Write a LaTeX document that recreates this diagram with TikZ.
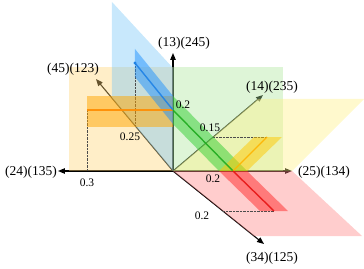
\documentclass[tikz,border=0pt]{standalone}
\usepackage{fontspec}
\setmainfont{Liberation Serif}
\usepackage{xcolor}
\usetikzlibrary{arrows.meta,positioning}
\definecolor{naranjap}{RGB}{255,212,117}
\definecolor{azulp}{RGB}{117,197,247}
\definecolor{verdep}{RGB}{172,230,155}
\definecolor{amarillop}{RGB}{255,240,130}
\definecolor{rojop}{RGB}{255,130,130}
\definecolor{naranjab}{RGB}{255,165,0}
\definecolor{azulb}{RGB}{30,144,255}
\definecolor{verdeb}{RGB}{50,205,50}
\definecolor{amarillob}{RGB}{255,200,0}
\definecolor{rojob}{RGB}{255,40,40}
\definecolor{naranjar}{RGB}{255,140,0}
\definecolor{azulr}{RGB}{30,130,230}
\definecolor{verder}{RGB}{30,170,30}
\definecolor{amarillor}{RGB}{255,180,0}
\definecolor{rojor}{RGB}{230,20,20}
\tikzset{
  eje/.style={-{Triangle[length=7pt,width=5.5pt]},line width=1.1pt,black},
  plano/.style={draw=none,fill opacity=0.4},
  banda/.style={draw=none,fill opacity=0.5},
  recta/.style={line width=1.4pt,opacity=0.9},
  guia/.style={densely dotted,thin,black!70},
  pt/.style={circle,fill=black,inner sep=1.2pt},
  etq/.style={font=\fontsize{13.5}{15}\selectfont,inner sep=0pt},
  num/.style={font=\fontsize{11.5}{13}\selectfont,inner sep=0pt}
}

\begin{document}
\begin{tikzpicture}[x=1pt,y=1pt]
\useasboundingbox (-173,-97) rectangle (191,171);
% ejes
\coordinate (o) at (0,0);
\coordinate (a13) at (0,118);
\coordinate (a24) at (-115,0);
\coordinate (a25) at (119,0);
\coordinate (a45) at (-77,92);
\coordinate (a14) at (90,76);
\coordinate (a34) at (91,-73);
\foreach \a in {a13,a24,a25,a45,a14,a34}{
  \draw[eje] (o) -- (\a);}
% planos
\fill[plano,fill=naranjap] (-104,0) rectangle (0,104);
\fill[plano,fill=azulp] (o) -- (0,103) -- (-61,169) -- (-61,73) -- cycle;
\fill[plano,fill=verdep] (o) rectangle (110,104);
\fill[plano,fill=amarillop] (o) -- (119,0) -- (191,72) -- (85,72) -- cycle;
\fill[plano,fill=rojop] (o) -- (119,0) -- (189,-65) -- (81,-65) -- cycle;
% puntos de las rectas
\coordinate (j) at (0,61);
\coordinate (b0) at (-38,108);
\coordinate (k) at (60,0);
\coordinate (n0) at (-86,61);
\coordinate (y1) at (94,34);
\coordinate (r1) at (101,-40);
% guias
\coordinate (p03) at (-86,0);
\coordinate (p025) at (-38,45);
\coordinate (p015) at (40,34);
\coordinate (p02) at (50,-40);
\draw[guia] (n0) -- (p03);
\draw[guia] (b0) -- (p025);
\draw[guia] (p015) -- (y1);
\draw[guia] (p02) -- (r1);
% bandas
\fill[banda,fill=naranjab] (-86,44) rectangle (0,75);
\fill[banda,fill=azulb] (-38,122) -- (0,75) -- (0,47) -- (-38,94) -- cycle;
\fill[banda,fill=verdeb] (0,75) -- (74,0) -- (46,0) -- (0,47) -- cycle;
\fill[banda,fill=amarillob] (46,0) -- (74,0) -- (109,34) -- (81,34) -- cycle;
\fill[banda,fill=rojob] (46,0) -- (74,0) -- (115,-40) -- (87,-40) -- cycle;
% rectas
\draw[recta,naranjar] (n0) -- (j);
\draw[recta,azulr] (b0) -- (j);
\draw[recta,verder] (j) -- (k);
\draw[recta,amarillor] (k) -- (y1);
\draw[recta,rojor] (k) -- (r1);
\node[pt,fill=azulr] (b0p) at (b0) {};
% etiquetas
\node[etq] (l13) at (11,128) {(13)(245)};
\node[etq] (l24) at (-142,-1) {(24)(135)};
\node[etq] (l25) at (151,-1) {(25)(134)};
\node[etq] (l45) at (-100,102) {(45)(123)};
\node[etq] (l14) at (99,84) {(14)(235)};
\node[etq] (l34) at (99,-87) {(34)(125)};
\node[num] (v03) at (-86,-12) {0.3};
\node[num] (v025) at (-43,34) {0.25};
\node[num] (v02a) at (10,66) {0.2};
\node[num] (v02b) at (40,-8) {0.2};
\node[num] (v015) at (37,43) {0.15};
\node[num] (v02c) at (29,-45) {0.2};
\end{tikzpicture}
\end{document}
